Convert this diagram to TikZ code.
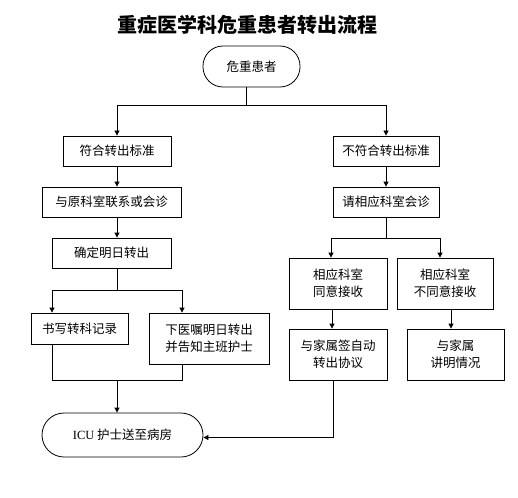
\documentclass[tikz,border=0pt]{standalone}
\usepackage{fontspec}
\newfontfamily\cjk{Noto Sans CJK SC}
\setmainfont{Liberation Serif}
\usetikzlibrary{arrows.meta}

\tikzset{
  stepbox/.style={draw, rectangle, align=center, inner sep=0pt,
    font=\cjk\fontsize{12.5}{17}\selectfont},
  endbox/.style={draw, rectangle, rounded corners=20pt, inner sep=0pt,
    font=\cjk\fontsize{12.5}{17}\selectfont},
}

\begin{document}
\begin{tikzpicture}[x=1pt, y=-1pt, line width=0.8pt,
    >={Triangle[length=5pt, width=5pt]}]
    \useasboundingbox (0,0) rectangle (518,497);

    % Title
    \node[font=\cjk\bfseries\fontsize{20}{24}\selectfont] (title)
      at (247.5, 25) {重症医学科危重患者转出流程};

    % Start
    \node[endbox, minimum width=97pt, minimum height=41pt] (start)
      at (251.5, 66.5) {危重患者};
    \coordinate (fork1) at (246, 105);

    % Left column: meets the criteria
    \node[stepbox, minimum width=108pt, minimum height=30pt] (fit)
      at (117, 151) {符合转出标准};
    \node[stepbox, minimum width=139pt, minimum height=30pt] (consult)
      at (111.5, 202) {与原科室联系或会诊};
    \node[stepbox, minimum width=119pt, minimum height=30pt] (confirm)
      at (111.5, 253) {确定明日转出};
    \node[stepbox, minimum width=97pt, minimum height=31pt] (record)
      at (79.5, 328.5) {书写转科记录};
    \node[stepbox, minimum width=120pt, minimum height=51pt] (order)
      at (209, 338.5) {下医嘱明日转出\\并告知主班护士};
    \node[endbox, minimum width=161pt, minimum height=44pt,
      rounded corners=22pt] (icu)
      at (122.5, 435) {{\rmfamily ICU} 护士送至病房};

    % Right column: does not meet the criteria
    \node[stepbox, minimum width=106pt, minimum height=30pt] (unfit)
      at (386, 151) {不符合转出标准};
    \node[stepbox, minimum width=106pt, minimum height=30pt] (ask)
      at (386, 202) {请相应科室会诊};
    \node[stepbox, minimum width=98pt, minimum height=51pt] (agree)
      at (338, 283.5) {相应科室\\同意接收};
    \node[stepbox, minimum width=96pt, minimum height=51pt] (refuse)
      at (445, 283.5) {相应科室\\不同意接收};
    \node[stepbox, minimum width=98pt, minimum height=51pt] (sign)
      at (338, 354.5) {与家属签自动\\转出协议};
    \node[stepbox, minimum width=97pt, minimum height=51pt] (explain)
      at (455.5, 354.5) {与家属\\讲明情况};

    % First split
    \draw (start.south -| fork1) -- (fork1);
    \draw[->] (fit.north |- fork1) -- (fit.north);
    \draw[->] (unfit.north |- fork1) -- (unfit.north);
    \draw (fit.north |- fork1) -- (unfit.north |- fork1);

    % Left chain
    \draw[->] (fit.south) -- (fit.south |- consult.north);
    \draw[->] (fit.south |- consult.south) -- (fit.south |- confirm.north);
    \coordinate (fork2) at (117, 290);
    \coordinate (fork2l) at (52, 290);
    \coordinate (fork2r) at (182, 290);
    \draw (fit.south |- confirm.south) -- (fork2);
    \draw (fork2l) -- (fork2r);
    \draw[->] (fork2l) -- (fork2l |- record.north);
    \draw[->] (fork2r) -- (fork2r |- order.north);

    % Merge into ICU
    \coordinate (join) at (117, 380);
    \draw (fork2l |- record.south) -- (fork2l |- join) -- (fork2r |- join)
      -- (fork2r |- order.south);
    \draw[->] (join) -- (join |- icu.north);

    % Right chain
    \draw[->] (unfit.south) -- (ask.north);
    \coordinate (fork3) at (386, 238);
    \coordinate (fork3l) at (331, 238);
    \coordinate (fork3r) at (440, 238);
    \draw (ask.south) -- (fork3);
    \draw (fork3l) -- (fork3r);
    \draw[->] (fork3l) -- (fork3l |- agree.north);
    \draw[->] (fork3r) -- (fork3r |- refuse.north);
    \draw[->] (332, 309) coordinate (a1) -- (a1 |- sign.north);
    \draw[->] (451, 309) coordinate (a2) -- (a2 |- explain.north);

    % Back to ICU
    \coordinate (turn) at (333, 437.5);
    \draw[->] (turn |- sign.south) -- (turn) -- (turn -| icu.east);
  \end{tikzpicture}
\end{document}
